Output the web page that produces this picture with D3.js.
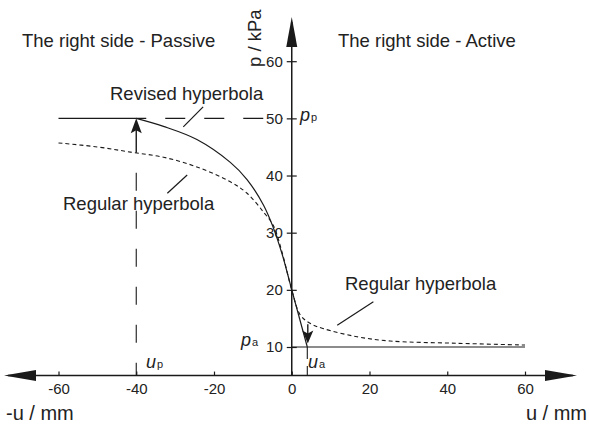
<!DOCTYPE html>
<html>
<head>
<meta charset="utf-8">
<script src="https://cdn.jsdelivr.net/npm/d3@7"></script>
<style>
  html, body { margin: 0; padding: 0; background: #fff; }
  svg { display: block; font-family: "Liberation Sans", Arial, sans-serif; }
</style>
</head>
<body>
<svg id="chart" width="589" height="429"></svg>
<script>
// Axis ticks
const xTicks = [-60, -40, -20, 0, 20, 40, 60];
const yTicks = [10, 20, 30, 40, 50, 60];

// Limit displacements and pressures
const uP = -40, uA = 4;
const pP = 50, pA = 10;

// Revised hyperbola (solid): passive plateau, curved branch, active straight drop
const revisedPlateauU = [-60, -40];
const revisedPlateauP = [50, 50];
const revisedCurveU = [-40, -33, -24.4, -15.8, -11.5, -7.25, -4.7, -2.5, -1, 0];
const revisedCurveP = [50, 48.6, 46.3, 42.3, 39.3, 34.8, 30.8, 26.3, 22.6, 20];
const revisedActiveU = [0, 4];
const revisedActiveP = [20, 10];
const activeLimitU = [0, 60];
const activeLimitP = [10, 10];

// Regular hyperbola (dotted)
const regularU = [-60, -50, -41.5, -33, -24.4, -15.8, -11.5, -7.25, -4.7, -2.5, 0, 2.2, 4.8, 8.2, 16.8, 25.3, 42.5, 60];
const regularP = [45.7, 45.0, 44.1, 43.2, 41.5, 38.9, 36.9, 33.6, 31.2, 26.6, 20, 15.6, 14.1, 13.2, 11.8, 11.05, 10.65, 10.35];

const svg = d3.select("#chart");
const ink = "#1a1a1a";
const textInk = "#222";

const x = d3.scaleLinear().domain([-60, 60]).range([58.5, 525]);
const y = d3.scaleLinear().domain([10, 60]).range([347, 61.2]);
const axisY = y(5);      // the u axis crosses the p axis at p = 5
const axisX = x(0);

const zip = (us, ps) => us.map((u, i) => [u, ps[i]]);
const line = d3.line().x(d => x(d[0])).y(d => y(d[1]));
const smooth = d3.line().x(d => x(d[0])).y(d => y(d[1])).curve(d3.curveCatmullRom.alpha(0.5));

// Filled arrowhead: tip at (tx, ty), direction angle in degrees (0 = right)
function arrowHead(tx, ty, angle, len, half, notch) {
  const p = d3.path();
  p.moveTo(0, 0);
  p.lineTo(-len, -half);
  p.lineTo(-len + notch, 0);
  p.lineTo(-len, half);
  p.closePath();
  svg.append("path")
    .attr("d", p.toString())
    .attr("transform", `translate(${tx},${ty}) rotate(${angle})`)
    .attr("fill", ink);
}

// ---- Axes ----
const gx = svg.append("g").attr("transform", `translate(0,${axisY})`)
  .call(d3.axisBottom(x).tickValues(xTicks).tickSize(-4).tickPadding(8).tickFormat(d => String(d)));
gx.select(".domain").remove();
gx.selectAll(".tick line").attr("stroke", ink).attr("stroke-width", 1.2);
gx.selectAll(".tick text").attr("font-size", 15).attr("fill", textInk)
  .attr("font-family", "Liberation Sans, Arial, sans-serif");

const gy = svg.append("g").attr("transform", `translate(${axisX},0)`)
  .call(d3.axisLeft(y).tickValues(yTicks).tickSize(5).tickPadding(4).tickFormat(d => String(d)));
gy.select(".domain").remove();
gy.selectAll(".tick line").attr("x1", 5).attr("stroke", ink).attr("stroke-width", 1.2);
gy.selectAll(".tick text").attr("font-size", 15).attr("fill", textInk)
  .attr("font-family", "Liberation Sans, Arial, sans-serif");

svg.append("line").attr("x1", 8).attr("x2", 573).attr("y1", axisY).attr("y2", axisY)
  .attr("stroke", ink).attr("stroke-width", 1.5);
svg.append("line").attr("x1", axisX).attr("x2", axisX).attr("y1", 22).attr("y2", axisY)
  .attr("stroke", ink).attr("stroke-width", 1.5);
arrowHead(4, axisY, 180, 32, 5.5, 0);
arrowHead(577, axisY, 0, 32, 5.5, 0);
arrowHead(axisX, 17, -90, 30, 5.5, 0);

// ---- Guide lines ----
// p_p level, long dashes
svg.append("line")
  .attr("x1", x(uP)).attr("x2", x(0) - 9).attr("y1", y(pP)).attr("y2", y(pP))
  .attr("stroke", ink).attr("stroke-width", 1.1)
  .attr("stroke-dasharray", "20,19").attr("stroke-dashoffset", 10);
// u_p vertical, long dashes below the arrow shaft
svg.append("line")
  .attr("x1", x(uP)).attr("x2", x(uP)).attr("y1", y(44)).attr("y2", axisY)
  .attr("stroke", ink).attr("stroke-width", 1.1)
  .attr("stroke-dasharray", "18,20").attr("stroke-dashoffset", 18);
// u_a vertical
svg.append("line")
  .attr("x1", x(uA)).attr("x2", x(uA)).attr("y1", y(pA)).attr("y2", axisY)
  .attr("stroke", ink).attr("stroke-width", 1.1)
  .attr("stroke-dasharray", "12,7");

// ---- Curves ----
svg.append("path").attr("d", smooth(zip(regularU, regularP)))
  .attr("fill", "none").attr("stroke", ink).attr("stroke-width", 1.1)
  .attr("stroke-dasharray", "4,3");

const solidStyle = sel => sel.attr("fill", "none").attr("stroke", ink).attr("stroke-width", 1.2);
svg.append("path").attr("d", line(zip(revisedPlateauU, revisedPlateauP))).call(solidStyle);
svg.append("path").attr("d", smooth(zip(revisedCurveU, revisedCurveP))).call(solidStyle);
svg.append("path").attr("d", line(zip(revisedActiveU, revisedActiveP))).call(solidStyle);
svg.append("path").attr("d", line(zip(activeLimitU, activeLimitP))).call(solidStyle);

// ---- Arrows towards the limit states ----
svg.append("line").attr("x1", x(uP)).attr("x2", x(uP)).attr("y1", y(44)).attr("y2", y(pP) + 8)
  .attr("stroke", ink).attr("stroke-width", 1.4);
arrowHead(x(uP), y(pP), -90, 15, 5.5, 3);

svg.append("line").attr("x1", x(uA) + 0.5).attr("x2", x(uA) + 0.5).attr("y1", y(14)).attr("y2", y(11.5))
  .attr("stroke", ink).attr("stroke-width", 1.4);
arrowHead(x(uA) + 0.5, y(10.6), 90, 13, 5.5, 3);

// ---- Pointer lines for the curve names ----
const pointers = [
  [[-27.9, 48.5], [-22.8, 52.0]],
  [[-32.0, 36.9], [-26.9, 40.1]],
  [[11.7, 13.8], [21.0, 17.9]]
];
pointers.forEach(pt => {
  svg.append("path").attr("d", line(pt)).attr("fill", "none")
    .attr("stroke", ink).attr("stroke-width", 1.2);
});

// ---- Text ----
const txt = (s, tx, ty, size, anchor) => svg.append("text")
  .attr("x", tx).attr("y", ty).attr("font-size", size)
  .attr("text-anchor", anchor || "start").attr("fill", textInk).text(s);

txt("The right side - Passive", 22, 47, 18.5);
txt("The right side - Active", 338, 47, 18.5);
txt("Revised hyperbola", 110, 100, 18.5);
txt("Regular hyperbola", 63, 210, 18.5);
txt("Regular hyperbola", 345, 290, 18.5);
txt("-u / mm", 6, 420, 20);
txt("u / mm", 587, 420, 20, "end");

svg.append("text")
  .attr("transform", "translate(261,67) rotate(-90)")
  .attr("font-size", 18.5).attr("fill", textInk).text("p / kPa");

// Symbols with subscripts
function symbol(main, sub, tx, ty) {
  const t = svg.append("text").attr("x", tx).attr("y", ty).attr("fill", textInk);
  t.append("tspan").attr("font-size", 18).attr("font-style", "italic").text(main);
  t.append("tspan").attr("font-size", 11).attr("dx", 1).text(sub);
}
symbol("p", "p", 300, 121);
symbol("p", "a", 241, 346);
symbol("u", "p", 146, 368);
symbol("u", "a", 308, 368);
</script>
</body>
</html>
